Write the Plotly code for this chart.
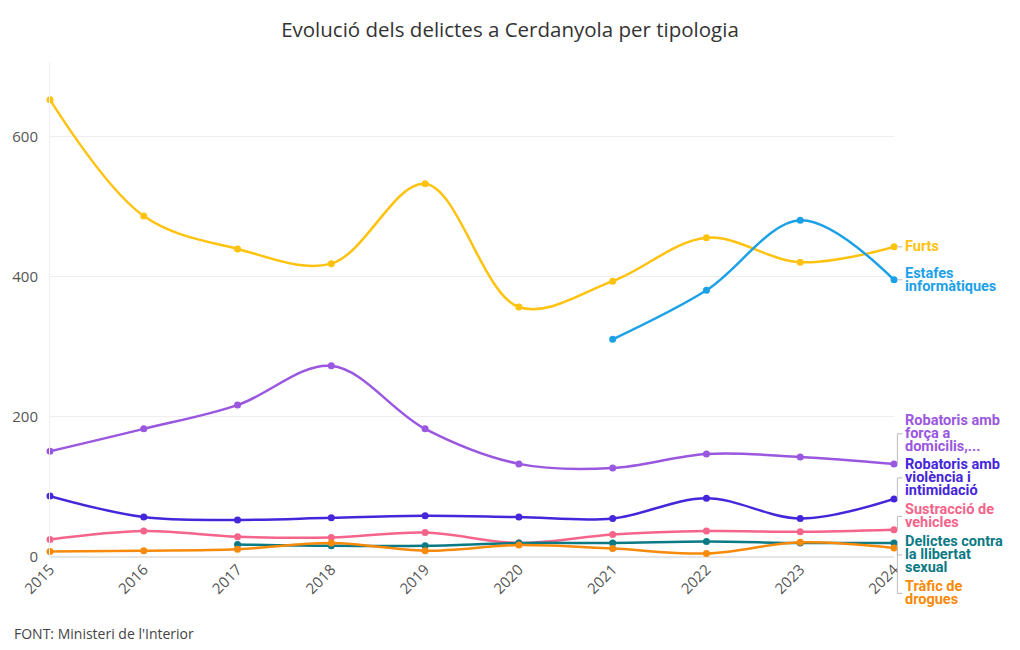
import plotly.graph_objects as go

# years on the x axis
years = [2015, 2016, 2017, 2018, 2019, 2020, 2021, 2022, 2023, 2024]

# series values
furts = [653, 487, 440, 419, 533, 357, 394, 456, 421, 443]
estafes = [None, None, None, None, None, None, 311, 381, 481, 396]
robatoris_forca = [151, 183, 217, 273, 183, 133, 127, 147, 143, 133]
robatoris_violencia = [87, 57, 53, 56, 59, 57, 55, 84, 55, 83]
sustraccio = [25, 37, 29, 28, 35, 20, 32, 37, 36, 39]
llibertat_sexual = [None, None, 18, 16, 16, 20, 20, 22, 20, 20]
trafic = [8, 9, 11, 20, 9, 17, 12, 5, 21, 13]

ymax = 707

# name, values, colour, label lines, label position (in axis units)
series = [
    ("Furts", furts, "#FFC20E", ["Furts"], 443),
    ("Estafes informàtiques", estafes, "#1DA1E6", ["Estafes", "informàtiques"], 396),
    ("Robatoris amb força a domicilis", robatoris_forca, "#9A57E0",
     ["Robatoris amb", "força a", "domicilis,..."], 176),
    ("Robatoris amb violència i intimidació", robatoris_violencia, "#4526DB",
     ["Robatoris amb", "violència i", "intimidació"], 113),
    ("Sustracció de vehicles", sustraccio, "#F5648A", ["Sustracció de", "vehicles"], 58),
    ("Delictes contra la llibertat sexual", llibertat_sexual, "#0B7A85",
     ["Delictes contra", "la llibertat", "sexual"], 3),
    ("Tràfic de drogues", trafic, "#F78A0A", ["Tràfic de", "drogues"], -52),
]

fig = go.Figure()
annotations = []
shapes = []
line_h = 13  # px between label lines

for name, vals, color, label_lines, label_y in series:
    fig.add_trace(go.Scatter(
        x=years, y=vals, name=name, mode="lines+markers",
        line=dict(color=color, width=2.5, shape="spline", smoothing=1),
        marker=dict(color=color, size=7),
        cliponaxis=False, connectgaps=False,
    ))
    last = vals[-1]
    ly = label_y / ymax
    n = len(label_lines)
    for i, txt in enumerate(label_lines):
        annotations.append(dict(
            x=1, xref="paper", xshift=9, y=ly, yref="paper",
            yshift=(n - 1) / 2 * line_h - i * line_h,
            text="<b>" + txt + "</b>", showarrow=False, xanchor="left", yanchor="middle",
            font=dict(family="Roboto, Noto Sans, sans-serif", size=14.5, color=color),
        ))
    # leader line from the last point to its label
    shapes.append(dict(type="line", xref="paper", yref="paper", x0=1.004, x1=1.004,
                       y0=last / ymax, y1=ly, line=dict(color="#bbbbbb", width=1)))
    shapes.append(dict(type="line", xref="paper", yref="paper", x0=1.004, x1=1.01,
                       y0=ly, y1=ly, line=dict(color="#bbbbbb", width=1)))

annotations.append(dict(
    x=0, xref="paper", xshift=-38, y=0, yref="paper", yshift=-65,
    yanchor="top", xanchor="left",
    text="FONT: Ministeri de l'Interior", showarrow=False,
    font=dict(family="Open Sans, Noto Sans, sans-serif", size=14, color="#444"),
))

fig.update_layout(
    width=1004, height=634,
    margin=dict(l=42, r=118, t=54, b=85),
    paper_bgcolor="white", plot_bgcolor="white",
    showlegend=False,
    title=dict(text="Evolució dels delictes a Cerdanyola per tipologia",
               x=0.5, xref="container", xanchor="center",
               y=0.965, yref="container", yanchor="middle",
               font=dict(family="Open Sans, Noto Sans, sans-serif", size=20.5, color="#333")),
    font=dict(family="Open Sans, Noto Sans, sans-serif", size=15, color="#555"),
    annotations=annotations,
    shapes=shapes,
)
fig.update_xaxes(range=[2015, 2024], tickmode="array", tickvals=years,
                 tickangle=-45, showgrid=False, zeroline=False, automargin=False,
                 showline=False, ticks="", tickfont=dict(size=15, color="#555"))
fig.update_yaxes(range=[0, ymax], tickvals=[0, 200, 400, 600], showgrid=True,
                 gridcolor="#eeeeee", zeroline=True, zerolinecolor="#e5e5e5",
                 showline=True, linecolor="#eeeeee", ticks="", ticklabelstandoff=8,
                 automargin=False, tickfont=dict(size=15, color="#555"))

fig.write_html("out.html")
